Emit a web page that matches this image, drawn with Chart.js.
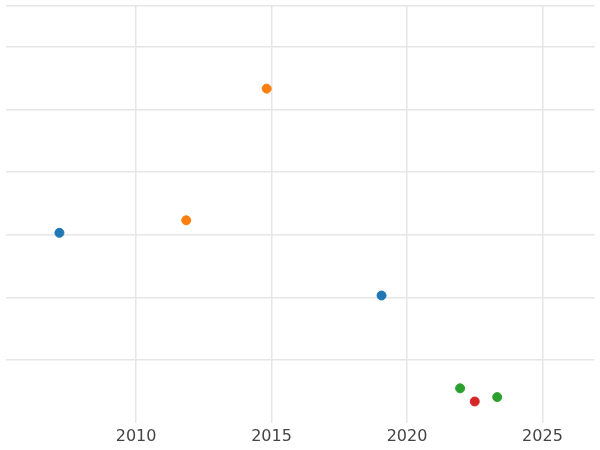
<!DOCTYPE html>
<html>
<head>
<script src="https://cdn.jsdelivr.net/npm/chart.js@4"></script>
<style>body{margin:0;background:#fff}#wrap{width:600px;height:450px}</style>
</head>
<body>
<div id="wrap"><canvas id="c"></canvas></div>
<script>
// Scatter points per series
const blueX = [2007.17, 2019.06];
const blueY = [3.03, 2.03];
const orangeX = [2011.85, 2014.82];
const orangeY = [3.23, 5.33];
const greenX = [2021.96, 2023.33];
const greenY = [0.55, 0.41];
const redX = [2022.5];
const redY = [0.34];
const xTicks = [2010, 2015, 2020, 2025];

function pts(xs, ys) {
  return xs.map((x, i) => ({x: x, y: ys[i]}));
}
function series(xs, ys, color) {
  return {data: pts(xs, ys), backgroundColor: color, borderColor: color, pointRadius: 4.5, pointHoverRadius: 4.5};
}

new Chart(document.getElementById("c"), {
  type: "scatter",
  data: {
    datasets: [
      series(blueX, blueY, "#1f77b4"),
      series(orangeX, orangeY, "#ff7f0e"),
      series(greenX, greenY, "#2ca02c"),
      series(redX, redY, "#d62728")
    ]
  },
  options: {
    responsive: true,
    maintainAspectRatio: false,
    animation: false,
    layout: {padding: {left: -6, right: -6, top: -6, bottom: 0}},
    plugins: {legend: {display: false}, tooltip: {enabled: false}},
    scales: {
      x: {
        type: "linear",
        min: 2005.18,
        max: 2026.92,
        afterBuildTicks: axis => { axis.ticks = xTicks.map(v => ({value: v})); },
        grid: {color: "#e6e6e6", lineWidth: 1.5, drawTicks: false},
        border: {display: false},
        ticks: {color: "#444", font: {family: "DejaVu Sans", size: 16}, padding: 4,
                callback: v => String(v)}
      },
      y: {
        display: true,
        min: 0,
        max: 6.656,
        afterFit: axis => { axis.width = 0; },
        ticks: {display: false, stepSize: 1, padding: 0},
        grid: {color: ctx => ctx.tick && ctx.tick.value === 0 ? "rgba(0,0,0,0)" : "#e6e6e6", lineWidth: 1.5, drawTicks: false},
        border: {display: false}
      }
    }
  }
});
</script>
</body>
</html>
